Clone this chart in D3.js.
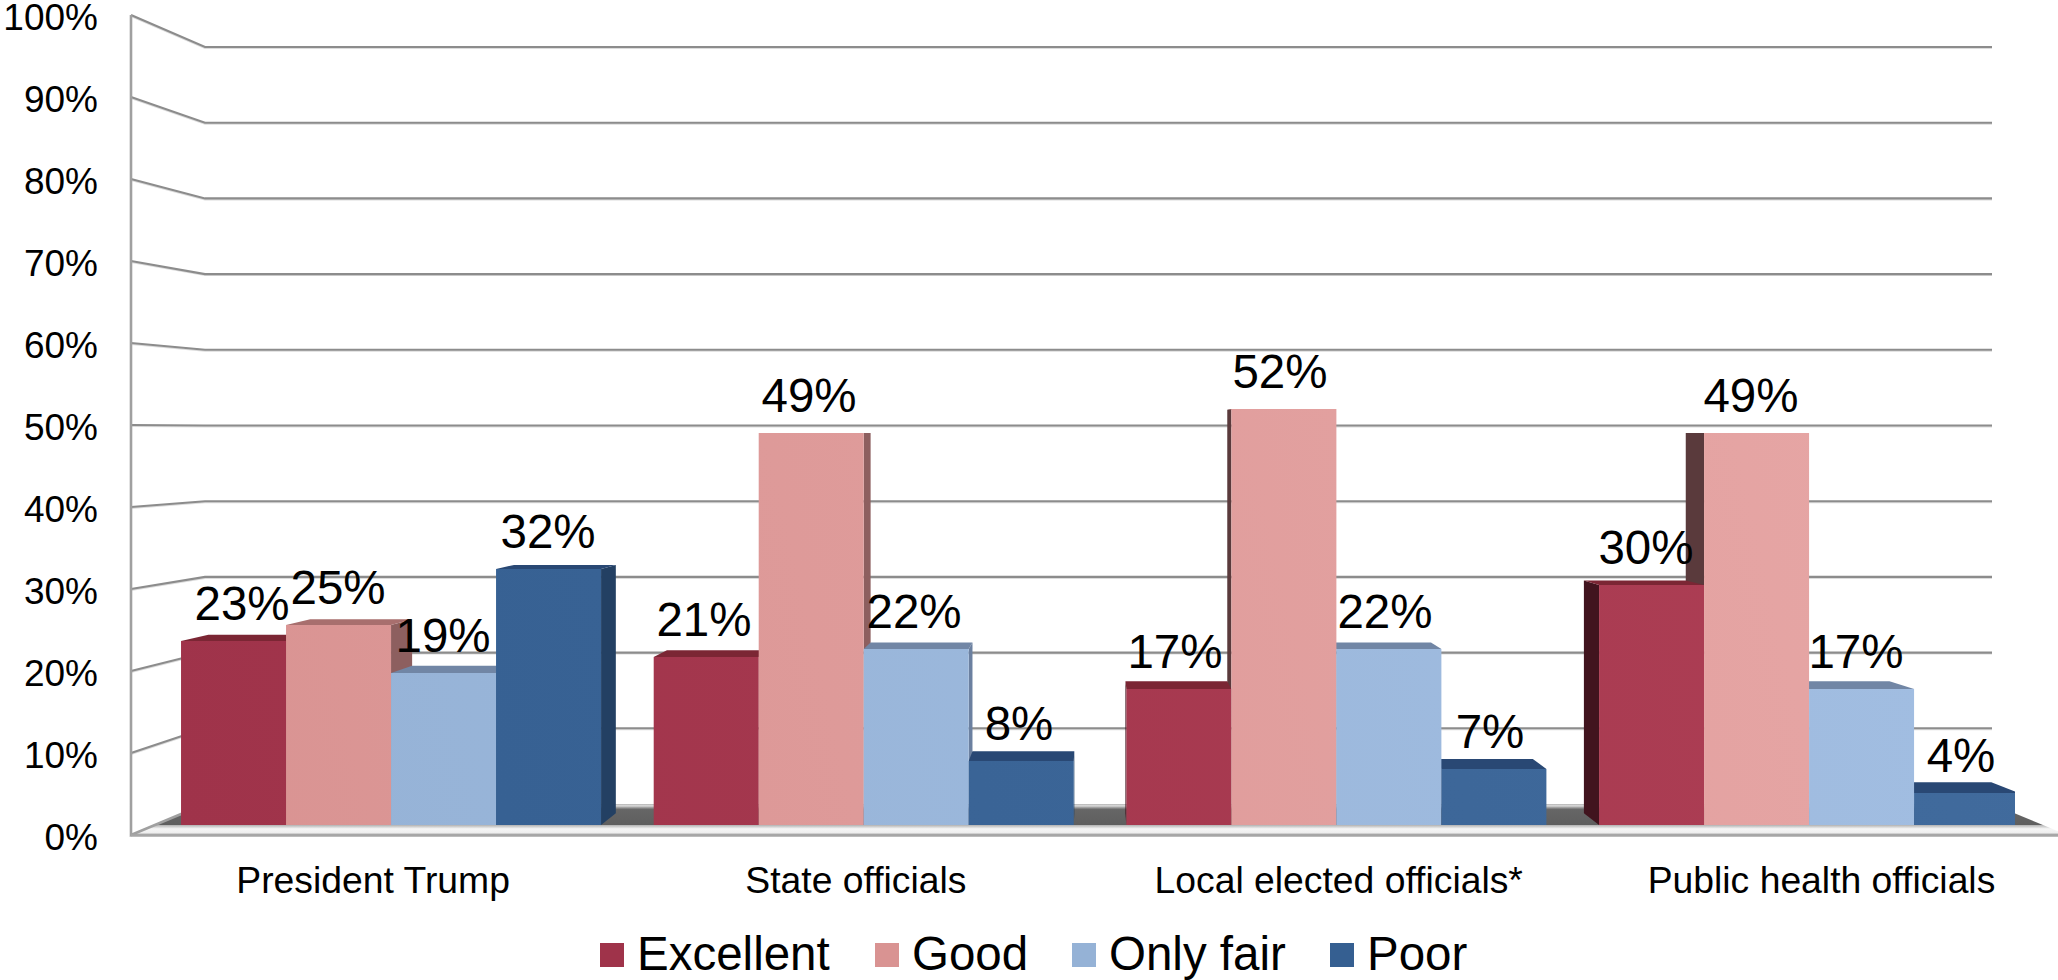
<!DOCTYPE html>
<html><head><meta charset="utf-8">
<script src="https://cdn.jsdelivr.net/npm/d3@7/dist/d3.min.js"></script>
<style>
html,body{margin:0;padding:0;background:#fff}
svg{display:block}
text{font-family:"Liberation Sans",Arial,sans-serif;fill:#000}
</style></head><body>
<svg id="c" width="2058" height="980"></svg>
<script>
const categories = ["President Trump","State officials","Local elected officials*","Public health officials"];
const seriesNames = ["Excellent","Good","Only fair","Poor"];
const excellent = [23,21,17,30];
const good = [25,49,52,49];
const onlyFair = [19,22,22,17];
const poor = [32,8,7,4];
const yTicks = [0,10,20,30,40,50,60,70,80,90,100];

const seriesValues = [excellent,good,onlyFair,poor];
const faceLeft  = ["#9f334a","#d99392","#95b2d6","#355f91"];
const faceRight = ["#ae3f55","#e7a7a6","#a2bee2","#416b9d"];
const topCol    = ["#7b2634","#a86f6e","#7186a5","#294874"];
const sideRight = ["#6e1f2e","#8d5f5f","#6b80a0","#234063"];
const sideLeft  = ["#41141e","#5a3a3c","#55657f","#1c3048"];

const svg = d3.select("#c");
const defs = svg.append("defs");
const VX = 1094, VY = 432, DEPTH = 0.97;
const back = (x,y)=>[VX+(x-VX)*DEPTH, VY+(y-VY)*DEPTH];

const yFront = d3.scaleLinear().domain([0,100]).range([835,15]);
const yBack  = d3.scaleLinear().domain([0,100]).range([804,47]);
const yBar   = d3.scaleLinear().domain([0,100]).range([825,25]);
const xGroup = d3.scaleBand().domain(categories).range([154.7,2045.4]).paddingInner(0.1114).paddingOuter(0.0557);
const xBar   = d3.scaleBand().domain(seriesNames).range([0,xGroup.bandwidth()]);
const xLabel = d3.scalePoint().domain(categories).range([372.6,1821]);
const WALL_X0 = 131, WALL_X1 = 205, WALL_X2 = 1992, FLOOR_X3 = 2067;

// gradients
seriesNames.forEach((s,i)=>{
  const g = defs.append("linearGradient").attr("id","f"+i).attr("gradientUnits","userSpaceOnUse")
    .attr("x1",181).attr("y1",825).attr("x2",2019).attr("y2",400);
  g.append("stop").attr("offset",0).attr("stop-color",faceLeft[i]);
  g.append("stop").attr("offset",1).attr("stop-color",faceRight[i]);
});
const fg = defs.append("linearGradient").attr("id","floor").attr("gradientUnits","userSpaceOnUse")
  .attr("x1",0).attr("x2",0).attr("y1",yBack(0)).attr("y2",yFront(0));
[[0,"#b4b4b4"],[.06,"#dcdcdc"],[.13,"#8c8c8c"],[.18,"#666"],[.67,"#5f5f5f"],[.69,"#b8b8b8"],[.8,"#f6f6f6"],[.93,"#eeeeee"],[.98,"#aaa"]]
  .forEach(d=>fg.append("stop").attr("offset",d[0]).attr("stop-color",d[1]));
defs.append("clipPath").attr("id","barClip").append("rect").attr("x",0).attr("y",0).attr("width",2015).attr("height",980);

// floor
svg.append("polygon")
  .attr("points",[[WALL_X0,yFront(0)],[WALL_X1,yBack(0)],[WALL_X2,yBack(0)],[FLOOR_X3,yFront(0)]].join(" "))
  .attr("fill","url(#floor)");

// gridlines on the walls
const grid = svg.append("g");
yTicks.forEach(t=>{
  if(t===0) return;
  grid.append("polyline")
    .attr("points",[[WALL_X0,yFront(t)+1.2],[WALL_X1,yBack(t)+1.2],[WALL_X2,yBack(t)+1.2]].join(" "))
    .attr("fill","none").attr("stroke","#dcdcdc").attr("stroke-width",1.6);
  grid.append("polyline")
    .attr("points",[[WALL_X0,yFront(t)],[WALL_X1,yBack(t)],[WALL_X2,yBack(t)]].join(" "))
    .attr("fill","none").attr("stroke","#8c8c8c").attr("stroke-width",2.1);
});
svg.append("polyline")
  .attr("points",[[WALL_X0,yFront(100)],[WALL_X0,yFront(0)],[WALL_X1,yBack(0)]].join(" "))
  .attr("fill","none").attr("stroke","#a0a0a0").attr("stroke-width",2.6);
svg.append("line").attr("x1",WALL_X0).attr("x2",FLOOR_X3).attr("y1",yFront(0)+.5).attr("y2",yFront(0)+.5)
  .attr("stroke","#a6a6a6").attr("stroke-width",2.4);

// bars
const bars = [];
categories.forEach((c,gi)=>seriesNames.forEach((s,si)=>{
  const x0 = xGroup(c)+xBar(s), x1 = x0+xBar.bandwidth(), v = seriesValues[si][gi];
  bars.push({gi,si,x0,x1,v,y0:yBar(0),y1:yBar(v)});
}));
const barLayer = svg.append("g").attr("clip-path","url(#barClip)");
const gSide = barLayer.append("g"), gTop = barLayer.append("g"), gFront = barLayer.append("g");
bars.forEach(b=>{
  const bl=back(b.x0,b.y1), br=back(b.x1,b.y1), bl0=back(b.x0,b.y0), br0=back(b.x1,b.y0);
  gTop.append("polygon").attr("points",[[b.x0,b.y1],bl,br,[b.x1,b.y1]].join(" ")).attr("fill",topCol[b.si]);
  if(b.x1<VX) gSide.append("polygon").attr("points",[[b.x1,b.y1],br,br0,[b.x1,b.y0]].join(" ")).attr("fill",sideRight[b.si]);
  if(b.x0>VX) gSide.append("polygon").attr("points",[[b.x0,b.y1],bl,bl0,[b.x0,b.y0]].join(" ")).attr("fill",sideLeft[b.si]);
  gFront.append("rect").attr("x",b.x0).attr("y",b.y1).attr("width",b.x1-b.x0).attr("height",b.y0-b.y1).attr("fill",`url(#f${b.si})`);
});

// data labels
const labelNudge = (b)=> (b.gi===0&&b.si===0) ? 8.5 : -0.5-b.gi*1.7;
svg.append("g").selectAll("text").data(bars).join("text")
  .attr("x",b=>(b.x0+b.x1)/2+labelNudge(b)).attr("y",b=>b.y1-21)
  .attr("text-anchor","middle").attr("font-size",47.5).text(b=>b.v+"%");

// axes
const ya = svg.append("g").attr("transform","translate(98,0)")
  .call(d3.axisLeft(yFront).tickValues(yTicks).tickSize(0).tickPadding(0).tickFormat(d=>d+"%"));
ya.select(".domain").remove();
ya.selectAll("text").attr("font-size",37).attr("dy",null).attr("y",14);

const xa = svg.append("g").attr("transform","translate(0,893)")
  .call(d3.axisBottom(xLabel).tickSize(0).tickPadding(0));
xa.select(".domain").remove();
xa.selectAll("text").attr("font-size",37.3).attr("dy",null).attr("y",0);
ya.attr("font-family",null); xa.attr("font-family",null);

// legend
const legendX = d3.scaleOrdinal().domain(seriesNames).range([600,875,1072,1330]);
const lg = svg.append("g").selectAll("g").data(seriesNames).join("g")
  .attr("transform",s=>`translate(${legendX(s)},943)`);
lg.append("rect").attr("width",24).attr("height",24).attr("fill",(s,i)=>faceLeft[i]);
lg.append("text").attr("x",37).attr("y",27).attr("font-size",47.5).text(s=>s);
</script>
</body></html>
